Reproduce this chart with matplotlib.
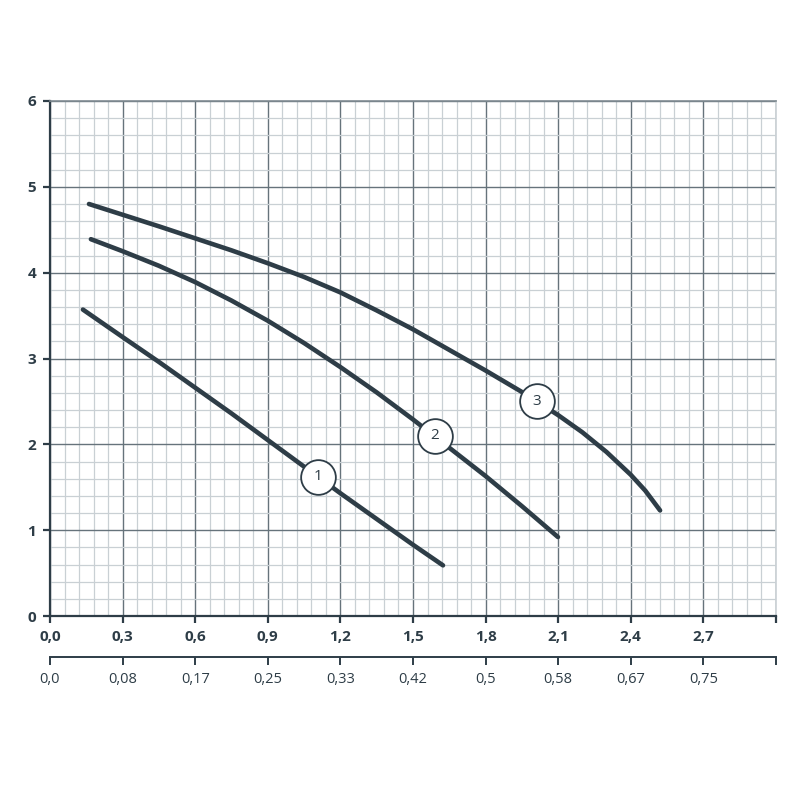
"""
Pump performance curves (head vs. flow), three speed settings
"""
import numpy as np
import matplotlib.pyplot as plt
from matplotlib.ticker import MultipleLocator

plt.rcParams["font.family"] = ["Open Sans", "DejaVu Sans"]

# curve points: flow (m3/h) and head (m)
q1 = [0.136, 0.30, 0.45, 0.60, 0.75, 0.90, 1.05, 1.20, 1.35, 1.50, 1.624]
h1 = [3.57, 3.25, 2.96, 2.66, 2.36, 2.05, 1.74, 1.43, 1.13, 0.83, 0.59]

q2 = [0.169, 0.30, 0.45, 0.60, 0.75, 0.90, 1.05, 1.20, 1.35, 1.50, 1.65, 1.80, 1.95, 2.099]
h2 = [4.39, 4.25, 4.08, 3.89, 3.675, 3.44, 3.18, 2.90, 2.605, 2.29, 1.96, 1.63, 1.28, 0.92]

q3 = [0.161, 0.30, 0.45, 0.60, 0.75, 0.90, 1.05, 1.20, 1.35, 1.50, 1.65, 1.80,
      1.95, 2.10, 2.20, 2.30, 2.40, 2.46, 2.521]
h3 = [4.80, 4.675, 4.54, 4.40, 4.26, 4.11, 3.95, 3.77, 3.56, 3.34, 3.10, 2.86,
      2.61, 2.34, 2.14, 1.91, 1.645, 1.46, 1.23]

# numbered labels sitting on the curves
label_names = ["1", "2", "3"]
label_q = [1.107, 1.59, 2.012]
label_h = [1.62, 2.10, 2.50]

x_ticks = [0.0, 0.3, 0.6, 0.9, 1.2, 1.5, 1.8, 2.1, 2.4, 2.7, 3.0]
x_labels = ["0,0", "0,3", "0,6", "0,9", "1,2", "1,5", "1,8", "2,1", "2,4", "2,7", ""]
x2_labels = ["0,0", "0,08", "0,17", "0,25", "0,33", "0,42", "0,5", "0,58", "0,67", "0,75", ""]
y_ticks = [0, 1, 2, 3, 4, 5, 6]

dark = "#2e3d47"
major_grid = "#66737b"
minor_grid = "#c9d0d4"

fig = plt.figure(figsize=(8, 8), dpi=100)
ax = fig.add_axes([0.0625, 0.23, 0.9075, 0.64375])

ax.set_xlim(0, 3.0)
ax.set_ylim(0, 6)
ax.set_xticks(x_ticks)
ax.set_xticklabels(x_labels)
ax.set_yticks(y_ticks)
ax.xaxis.set_minor_locator(MultipleLocator(0.06))
ax.yaxis.set_minor_locator(MultipleLocator(0.2))

ax.grid(True, which="minor", color=minor_grid, linewidth=0.9, zorder=0)
ax.grid(True, which="major", color=major_grid, linewidth=1.0, zorder=0)
ax.set_axisbelow(True)

ax.tick_params(axis="both", which="minor", length=0)
ax.tick_params(axis="both", which="major", length=5, width=1.6, color=dark,
               labelcolor=dark, labelsize=11, pad=5)
for lab in ax.get_xticklabels() + ax.get_yticklabels():
    lab.set_fontweight("bold")

ax.spines["left"].set_color(dark)
ax.spines["left"].set_linewidth(1.6)
ax.spines["bottom"].set_color(dark)
ax.spines["bottom"].set_linewidth(1.6)
ax.spines["top"].set_color("#7f8a91")
ax.spines["top"].set_linewidth(1.2)
ax.spines["right"].set_color("#c9d0d4")
ax.spines["right"].set_linewidth(1.2)

for q, h in [(q1, h1), (q2, h2), (q3, h3)]:
    ax.plot(q, h, color=dark, linewidth=3.3, solid_capstyle="round",
            solid_joinstyle="round", zorder=3)

for name, q, h in zip(label_names, label_q, label_h):
    ax.plot(q, h, marker="o", markersize=25, markerfacecolor="white",
            markeredgecolor=dark, markeredgewidth=1.3, zorder=4)
    ax.text(q, h, name, ha="center", va="center", fontsize=11,
            color=dark, zorder=5)

# second flow scale (l/s) under the main axis
ax2 = fig.add_axes([0.0625, 0.17875, 0.9075, 0.0001])
ax2.set_xlim(0, 3.0)
ax2.set_yticks([])
ax2.set_xticks(x_ticks)
ax2.set_xticklabels(x2_labels)
ax2.tick_params(axis="x", length=6, width=1.4, color=dark, labelcolor=dark,
                labelsize=10.5, pad=5)
for s in ["top", "left", "right"]:
    ax2.spines[s].set_visible(False)
ax2.spines["bottom"].set_color(dark)
ax2.spines["bottom"].set_linewidth(1.4)
ax2.patch.set_visible(False)

plt.savefig("out.png", dpi=100)
